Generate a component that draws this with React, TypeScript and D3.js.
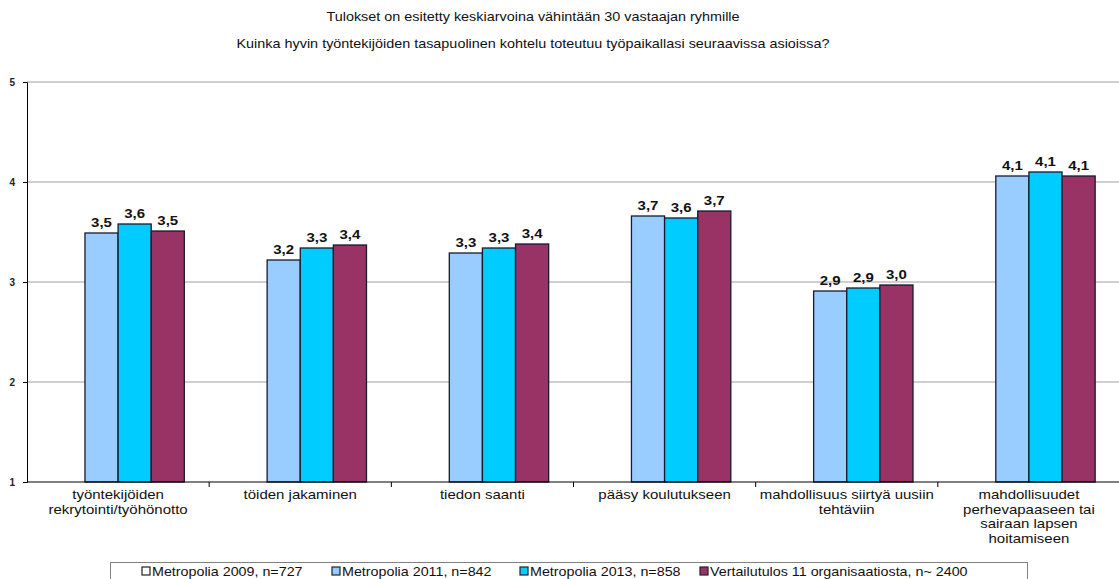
import React, { useEffect, useRef } from 'react'
import * as d3 from 'd3'

const categories = ['rekrytointi', 'jakaminen', 'tieto', 'koulutus', 'siirtyminen', 'perhevapaa']
const categoryLabels = [
  ['työntekijöiden', 'rekrytointi/työhönotto'],
  ['töiden jakaminen'],
  ['tiedon saanti'],
  ['pääsy koulutukseen'],
  ['mahdollisuus siirtyä uusiin', 'tehtäviin'],
  ['mahdollisuudet', 'perhevapaaseen tai', 'sairaan lapsen', 'hoitamiseen'],
]
const seriesNames = [
  'Metropolia 2009, n=727',
  'Metropolia 2011, n=842',
  'Metropolia 2013, n=858',
  'Vertailutulos 11 organisaatiosta, n~ 2400',
]
const seriesColors = ['#ffffff', '#99ccff', '#00ccff', '#993366']
// 2009 has no values in this chart
const values2009: (number | null)[] = [null, null, null, null, null, null]
const values2011 = [3.49, 3.22, 3.29, 3.66, 2.91, 4.06]
const values2013 = [3.58, 3.34, 3.34, 3.64, 2.94, 4.1]
const valuesVert = [3.51, 3.37, 3.38, 3.71, 2.97, 4.06]
const yTicks = [1, 2, 3, 4, 5]
const titles = [
  'Tulokset on esitetty keskiarvoina vähintään 30 vastaajan ryhmille',
  'Kuinka hyvin työntekijöiden tasapuolinen kohtelu toteutuu työpaikallasi seuraavissa asioissa?',
]

const W = 1119
const H = 579
const FONT = '"Liberation Sans", Arial, sans-serif'
// the source picture is stretched sideways, so text is widened a bit
const STRETCH = 1.2

export default function App() {
  const ref = useRef<SVGSVGElement>(null)

  useEffect(() => {
    const svg = d3.select(ref.current)
    svg.selectAll('*').remove()

    const left = 27
    const right = 1120
    const top = 82
    const bottom = 482

    const allSeries = [values2009, values2011, values2013, valuesVert]

    const x0 = d3.scaleBand().domain(categories).range([left, right]).paddingInner(0).paddingOuter(0)
    const x1 = d3.scaleBand()
      .domain(seriesNames)
      .range([0, x0.bandwidth()])
      .paddingInner(0)
      .paddingOuter(0.75)
    const y = d3.scaleLinear().domain([1, 5]).range([bottom, top])

    // titles
    svg.selectAll('.title')
      .data(titles)
      .enter()
      .append('text')
      .attr('transform', (d, i) => `translate(533,${21 + i * 27}) scale(${STRETCH},1)`)
      .attr('text-anchor', 'middle')
      .attr('font-family', FONT)
      .attr('font-size', 12)
      .attr('fill', '#111')
      .text(d => d)

    // gridlines
    svg.append('g')
      .selectAll('line')
      .data(yTicks.filter(t => t > 1))
      .enter()
      .append('line')
      .attr('x1', left)
      .attr('x2', right)
      .attr('y1', d => y(d))
      .attr('y2', d => y(d))
      .attr('stroke', '#a0a0a0')
      .attr('stroke-width', 1.2)

    // y axis
    const yAxis = svg.append('g')
      .attr('transform', `translate(${left},0)`)
      .call(d3.axisLeft(y).tickValues(yTicks).tickSize(4).tickPadding(8).tickFormat(d3.format('d')))
    yAxis.select('.domain').attr('stroke', '#000')
    yAxis.selectAll('line').attr('stroke', '#000')
    yAxis.selectAll('text')
      .attr('font-family', FONT)
      .attr('font-size', 10)
      .attr('font-weight', 'bold')
      .attr('fill', '#222')

    // bars
    const groups = svg.append('g')
      .selectAll('g')
      .data(categories)
      .enter()
      .append('g')
      .attr('transform', d => `translate(${x0(d)},0)`)

    const fmt = (v: number) => d3.format('.1f')(v).replace('.', ',')

    groups.each(function (cat, ci) {
      const g = d3.select(this)
      const items = seriesNames
        .map((s, si) => ({ s, si, v: allSeries[si][ci] }))
        .filter(d => d.v !== null) as { s: string; si: number; v: number }[]

      g.selectAll('rect')
        .data(items)
        .enter()
        .append('rect')
        .attr('x', d => x1(d.s)!)
        .attr('width', x1.bandwidth())
        .attr('y', d => y(d.v))
        .attr('height', d => bottom - y(d.v))
        .attr('fill', d => seriesColors[d.si])
        .attr('stroke', '#1a1a2e')
        .attr('stroke-width', 1.3)

      g.selectAll('text')
        .data(items)
        .enter()
        .append('text')
        .attr('transform', d => `translate(${x1(d.s)! + x1.bandwidth() / 2},${y(d.v) - 6}) scale(1.25,1)`)
        .attr('text-anchor', 'middle')
        .attr('font-family', FONT)
        .attr('font-size', 12)
        .attr('font-weight', 'bold')
        .attr('fill', '#111')
        .text(d => fmt(d.v))
    })

    // x axis line and ticks
    svg.append('line')
      .attr('x1', left)
      .attr('x2', right)
      .attr('y1', bottom)
      .attr('y2', bottom)
      .attr('stroke', '#000')
      .attr('stroke-width', 1.2)

    svg.append('g')
      .selectAll('line')
      .data(categories.slice(1))
      .enter()
      .append('line')
      .attr('x1', d => x0(d)!)
      .attr('x2', d => x0(d)!)
      .attr('y1', bottom)
      .attr('y2', bottom + 5)
      .attr('stroke', '#000')

    // category labels
    const labels = svg.append('g')
      .selectAll('text')
      .data(categories)
      .enter()
      .append('text')
      .attr('transform', d => `translate(${x0(d)! + x0.bandwidth() / 2},499) scale(${STRETCH},1)`)
      .attr('text-anchor', 'middle')
      .attr('font-family', FONT)
      .attr('font-size', 12.5)
      .attr('fill', '#111')

    labels.each(function (cat, ci) {
      const t = d3.select(this)
      categoryLabels[ci].forEach((line, li) => {
        t.append('tspan')
          .attr('x', 0)
          .attr('y', li * 14.6)
          .text(line)
      })
    })

    // legend
    const legend = svg.append('g')
    legend.append('rect')
      .attr('x', 110.5)
      .attr('y', 562.5)
      .attr('width', 917)
      .attr('height', 40)
      .attr('fill', '#fff')
      .attr('stroke', '#808080')

    const legendX = [146, 336, 524, 704]
    const items = legend.selectAll('g.item')
      .data(seriesNames)
      .enter()
      .append('g')
      .attr('transform', (d, i) => `translate(${legendX[i]},571)`)

    items.append('rect')
      .attr('x', -4)
      .attr('y', -4)
      .attr('width', 8)
      .attr('height', 8)
      .attr('fill', (d, i) => seriesColors[i])
      .attr('stroke', '#222')
      .attr('stroke-width', 1.2)

    items.append('text')
      .attr('transform', 'translate(6,5) scale(1.1,1)')
      .attr('font-family', FONT)
      .attr('font-size', 13)
      .attr('fill', '#111')
      .text(d => d)
  }, [])

  return (
    <svg
      ref={ref}
      width={W}
      height={H}
      style={{ position: 'absolute', left: 0, top: 0, background: '#fff' }}
    />
  )
}
